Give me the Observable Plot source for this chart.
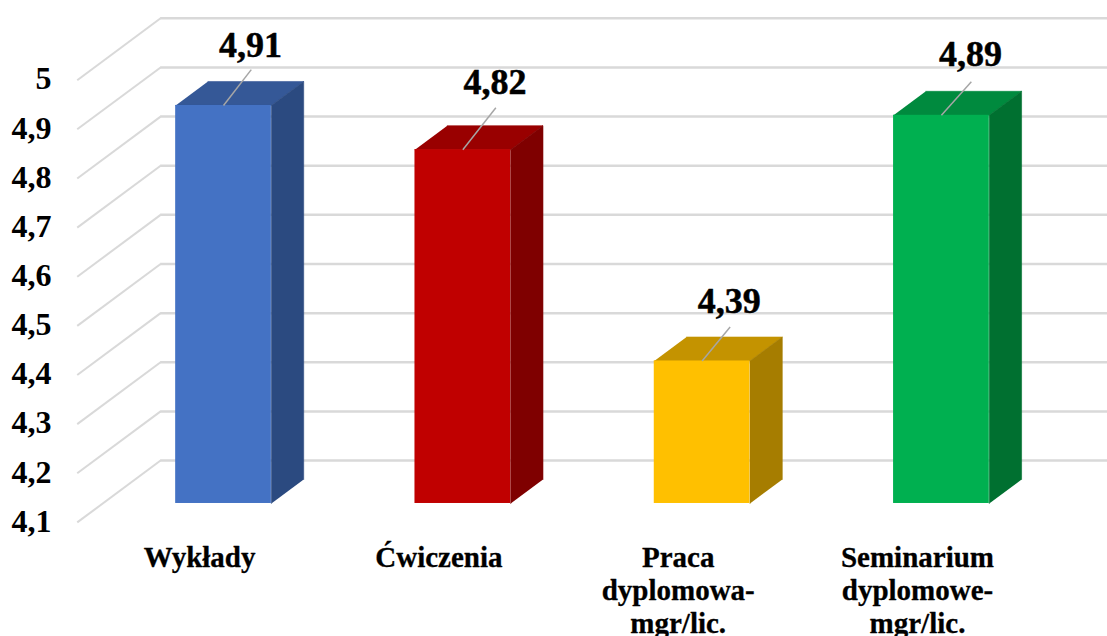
<!DOCTYPE html>
<html><head><meta charset="utf-8">
<script src="https://cdn.jsdelivr.net/npm/d3@7"></script>
<script src="https://cdn.jsdelivr.net/npm/@observablehq/plot@0.6"></script>
<style>html,body{margin:0;padding:0;background:#fff}svg{display:block}</style>
</head><body><div id="chart"></div>
<script>
const categories = ["Wykłady", "Ćwiczenia", "Praca\ndyplomowa-\nmgr/lic.", "Seminarium\ndyplomowe-\nmgr/lic."];
const values = [4.91, 4.82, 4.39, 4.89];
const valueLabels = ["4,91", "4,82", "4,39", "4,89"];
const frontColors = ["#4472C4", "#C00000", "#FFC000", "#00B050"];
const topColors = ["#355897", "#990000", "#C49300", "#008A3E"];
const sideColors = ["#2B4A80", "#7F0000", "#A67D00", "#007030"];
const ticks = [4.1, 4.2, 4.3, 4.4, 4.5, 4.6, 4.7, 4.8, 4.9, 5];
const base = 4.1;

// Layout in scale units: one x unit = spacing of bars, y unit = data value
const halfBar = 0.2;
const depthX = 0.135, depthY = 0.0488;
const wallBack = 1.79, wallFront = -0.79;
const wallX = -0.263;
const leaderXs = [0.116, 0.138, 0.117, 0.125];
const leaderYs = [0.073, 0.0855, 0.069, 0.068];
const labelXs = [0.113, 0.134, 0.113, 0.121];
const labelYs = [0.123, 0.137, 0.121, 0.123];

const bars = values.map((v, i) => ({i, v, label: valueLabels[i], cat: categories[i],
  front: frontColors[i], top: topColors[i], side: sideColors[i]}));

const faces = bars.flatMap(b => {
  const l = b.i - halfBar, r = b.i + halfBar;
  return [
    ...[[l, b.v], [r, b.v], [r + depthX, b.v + depthY], [l + depthX, b.v + depthY]]
      .map(([x, y]) => ({x, y, id: "t" + b.i, color: b.top})),
    ...[[r, base], [r, b.v], [r + depthX, b.v + depthY], [r + depthX, base + depthY]]
      .map(([x, y]) => ({x, y, id: "s" + b.i, color: b.side}))
  ];
});

const wallSlants = ticks.map(t => ({
  x1: wallX - (wallBack - wallFront) * depthX, y1: t + wallFront * depthY,
  x2: wallX, y2: t + wallBack * depthY
}));

const chart = Plot.plot({
  width: 1107, height: 636,
  margin: 0,
  style: {background: "#fff", overflow: "hidden"},
  x: {domain: [-0.932, 3.694], range: [0, 1107], axis: null},
  y: {domain: [3.8293, 5.1236], range: [636, 0]},
  color: {type: "identity"},
  marks: [
    Plot.link(wallSlants, {x1: "x1", y1: "y1", x2: "x2", y2: "y2", stroke: "#D9D9D9", strokeWidth: 2}),
    Plot.ruleY(ticks, {y: t => t + wallBack * depthY, x1: wallX, x2: 3.694, stroke: "#D9D9D9", strokeWidth: 2.5}),
    Plot.line(faces, {x: "x", y: "y", z: "id", fill: "color", stroke: "color", strokeWidth: 0.6, curve: "linear"}),
    Plot.rect(bars, {x1: d => d.i - halfBar, x2: d => d.i + halfBar, y1: base, y2: "v", fill: "front", inset: 0}),
    Plot.link(bars, {x1: "i", y1: "v", x2: d => d.i + leaderXs[d.i], y2: d => d.v + leaderYs[d.i], stroke: "#A6A6A6", strokeWidth: 1.5}),
    Plot.text(bars, {x: d => d.i + labelXs[d.i], y: d => d.v + labelYs[d.i],
      text: "label", fontFamily: "Liberation Serif", fontWeight: "bold", fontSize: 36, fill: "#000", stroke: "#000", strokeWidth: 0.5, lineAnchor: "middle"}),
    Plot.axisY(ticks, {anchor: "left", label: null, tickSize: 0, tickPadding: 0, dx: 51, dy: 18,
      tickFormat: t => String(t).replace(".", ","), fontFamily: "Liberation Serif", fontWeight: "bold", fontSize: 32, fill: "#000", stroke: "#000", strokeWidth: 0.4, textAnchor: "end"}),
    Plot.text(bars, {x: d => d.i - 0.1, y: base, dy: 39.5, text: "cat", lineAnchor: "top", lineHeight: 1.15,
      fontFamily: "Liberation Serif", fontWeight: "bold", fontSize: 29, fill: "#000", stroke: "#000", strokeWidth: 0.3})
  ]
});
document.getElementById("chart").append(chart);
</script></body></html>
